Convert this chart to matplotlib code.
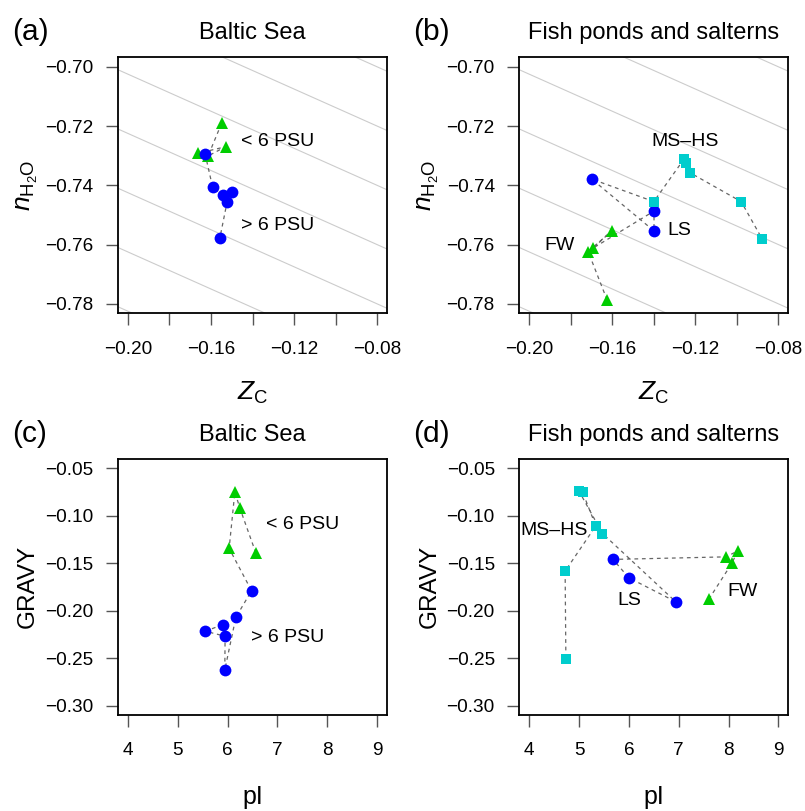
import numpy as np
import matplotlib
matplotlib.use("Agg")
import matplotlib.pyplot as plt

plt.rcParams['font.family'] = ['Liberation Sans', 'DejaVu Sans']
plt.rcParams['mathtext.fontset'] = 'custom'
plt.rcParams['mathtext.rm'] = 'Liberation Sans'
plt.rcParams['mathtext.it'] = 'Liberation Sans:italic'

# (a) Baltic Sea, ZC vs nH2O (points listed in path order)
a_green_x = [-0.1549, -0.1614, -0.1530, -0.1663]
a_green_y = [-0.7191, -0.7301, -0.7270, -0.7292]
a_blue_x = [-0.1628, -0.1592, -0.1544, -0.1498, -0.1522, -0.1557]
a_blue_y = [-0.7295, -0.7407, -0.7433, -0.7422, -0.7455, -0.7577]

# (b) Fish ponds and salterns, ZC vs nH2O (increasing salinity)
b_green_x = [-0.1625, -0.1716, -0.1601, -0.1695]
b_green_y = [-0.7787, -0.7624, -0.7553, -0.7613]
b_blue_x = [-0.1399, -0.1399, -0.1699]
b_blue_y = [-0.7487, -0.7554, -0.7379]
b_cyan_x = [-0.1400, -0.1255, -0.1243, -0.1227, -0.0979, -0.0878]
b_cyan_y = [-0.7455, -0.7312, -0.7326, -0.7357, -0.7455, -0.7581]

# (c) Baltic Sea, pI vs GRAVY
c_green_x = [6.568, 6.246, 6.146, 6.031]
c_green_y = [-0.1394, -0.0920, -0.0749, -0.1345]
c_blue_x = [6.481, 6.166, 5.944, 5.950, 5.556, 5.898]
c_blue_y = [-0.1791, -0.2071, -0.2625, -0.2270, -0.2218, -0.2148]

# (d) Fish ponds and salterns, pI vs GRAVY
d_green_x = [7.605, 8.066, 8.186, 7.953]
d_green_y = [-0.1880, -0.1503, -0.1371, -0.1434]
d_blue_x = [5.682, 5.997, 6.938]
d_blue_y = [-0.1461, -0.1654, -0.1906]
d_cyan_x = [5.470, 5.001, 5.070, 5.336, 4.720, 4.735]
d_cyan_y = [-0.1188, -0.0744, -0.0752, -0.1108, -0.1584, -0.2510]

# background reference lines in the ZC-nH2O panels
bg_slope = -0.3125
bg_intercepts = [-0.885 + 0.02 * k for k in range(12)]

zc_ticks = [-0.20, -0.18, -0.16, -0.14, -0.12, -0.10, -0.08]
zc_labels = ['\u22120.20', '', '\u22120.16', '', '\u22120.12', '', '\u22120.08']
nh2o_ticks = [-0.70, -0.72, -0.74, -0.76, -0.78]
pi_ticks = [4, 5, 6, 7, 8, 9]
gravy_ticks = [-0.05, -0.10, -0.15, -0.20, -0.25, -0.30]

GREEN = '#00CD00'
BLUE = '#0000FF'
CYAN = '#00CDCD'

fig = plt.figure(figsize=(8.05, 8.11), dpi=100)
W, H = 805, 811


def fmt(v):
    return ('%.2f' % v).replace('-', '\u2212')


def make_ax(left, top, right, bottom):
    return fig.add_axes([left / W, 1 - bottom / H, (right - left) / W, (bottom - top) / H])


def style(ax, title, tag):
    for s in ax.spines.values():
        s.set_linewidth(1.3)
        s.set_color('black')
    ax.tick_params(direction='out', length=8.6, width=1.0, color='#555555',
                   labelsize=13.7)
    ax.tick_params(axis='x', pad=11)
    ax.tick_params(axis='y', pad=9)
    ax.text(0.5, 1 + 24 / 256, title, transform=ax.transAxes, ha='center',
            va='center', fontsize=17)
    ax.text(-106 / 269, 1 + 25 / 256, tag, transform=ax.transAxes, ha='left',
            va='center', fontsize=21.5)


def draw_path(ax, groups):
    xs = np.concatenate([g[0] for g in groups])
    ys = np.concatenate([g[1] for g in groups])
    ax.plot(xs, ys, ls=(0, (3, 3)), color='#666666', lw=0.9, zorder=2)
    for gx, gy, marker, color, ms in groups:
        ax.plot(gx, gy, ls='none', marker=marker, color=color, ms=ms,
                markeredgewidth=0, zorder=3)


def zc_panel(ax):
    xl = np.array([-0.21, -0.07])
    for c in bg_intercepts:
        ax.plot(xl, c + bg_slope * xl, color='#cccccc', lw=0.8, zorder=1)
    ax.set_xlim(-0.2048, -0.0752)
    ax.set_ylim(-0.7832, -0.6968)
    ax.set_xticks(zc_ticks)
    ax.set_xticklabels(zc_labels)
    ax.set_yticks(nh2o_ticks)
    ax.set_yticklabels([fmt(v) for v in nh2o_ticks])
    ax.text(0.5, -80 / 256, r'$Z_\mathrm{C}$', transform=ax.transAxes,
            ha='center', va='center', fontsize=19)
    ax.text(-91 / 269, 0.5, r'$n_\mathrm{H_2O}$', transform=ax.transAxes,
            ha='center', va='center', rotation=90, fontsize=19)


def pi_panel(ax):
    ax.set_xlim(3.8, 9.2)
    ax.set_ylim(-0.31, -0.04)
    ax.set_xticks(pi_ticks)
    ax.set_yticks(gravy_ticks)
    ax.set_yticklabels([fmt(v) for v in gravy_ticks])
    ax.text(0.5, -82 / 256, 'pI', transform=ax.transAxes,
            ha='center', va='center', fontsize=18)
    ax.text(-90 / 269, 0.5, 'GRAVY', transform=ax.transAxes,
            ha='center', va='center', rotation=90, fontsize=17.5)


ax_a = make_ax(118, 57.3, 387, 313.3)
ax_b = make_ax(519.3, 57.3, 788.3, 313.3)
ax_c = make_ax(118, 458.7, 387, 715)
ax_d = make_ax(519.3, 458.7, 788.3, 715)

zc_panel(ax_a)
draw_path(ax_a, [(a_green_x, a_green_y, '^', GREEN, 9),
                 (a_blue_x, a_blue_y, 'o', BLUE, 8.5)])
ax_a.text(-0.1457, -0.7253, '< 6 PSU', ha='left', va='center', fontsize=14)
ax_a.text(-0.1457, -0.7534, '> 6 PSU', ha='left', va='center', fontsize=14)
style(ax_a, 'Baltic Sea', '(a)')

zc_panel(ax_b)
draw_path(ax_b, [(b_green_x, b_green_y, '^', GREEN, 9),
                 (b_blue_x, b_blue_y, 'o', BLUE, 8.5),
                 (b_cyan_x, b_cyan_y, 's', CYAN, 7.5)])
ax_b.text(-0.1251, -0.7253, 'MS\u2013HS', ha='center', va='center', fontsize=14)
ax_b.text(-0.1335, -0.7551, 'LS', ha='left', va='center', fontsize=14)
ax_b.text(-0.1852, -0.7604, 'FW', ha='center', va='center', fontsize=14)
style(ax_b, 'Fish ponds and salterns', '(b)')

pi_panel(ax_c)
draw_path(ax_c, [(c_green_x, c_green_y, '^', GREEN, 9),
                 (c_blue_x, c_blue_y, 'o', BLUE, 8.5)])
ax_c.text(6.769, -0.1089, '< 6 PSU', ha='left', va='center', fontsize=14)
ax_c.text(6.461, -0.2288, '> 6 PSU', ha='left', va='center', fontsize=14)
style(ax_c, 'Baltic Sea', '(c)')

pi_panel(ax_d)
draw_path(ax_d, [(d_green_x, d_green_y, '^', GREEN, 9),
                 (d_blue_x, d_blue_y, 'o', BLUE, 8.5),
                 (d_cyan_x, d_cyan_y, 's', CYAN, 7.5)])
ax_d.text(4.50, -0.1161, 'MS\u2013HS', ha='center', va='center', fontsize=14)
ax_d.text(6.003, -0.1898, 'LS', ha='center', va='center', fontsize=14)
ax_d.text(8.286, -0.1801, 'FW', ha='center', va='center', fontsize=14)
style(ax_d, 'Fish ponds and salterns', '(d)')

fig.savefig('out.png', dpi=100)
